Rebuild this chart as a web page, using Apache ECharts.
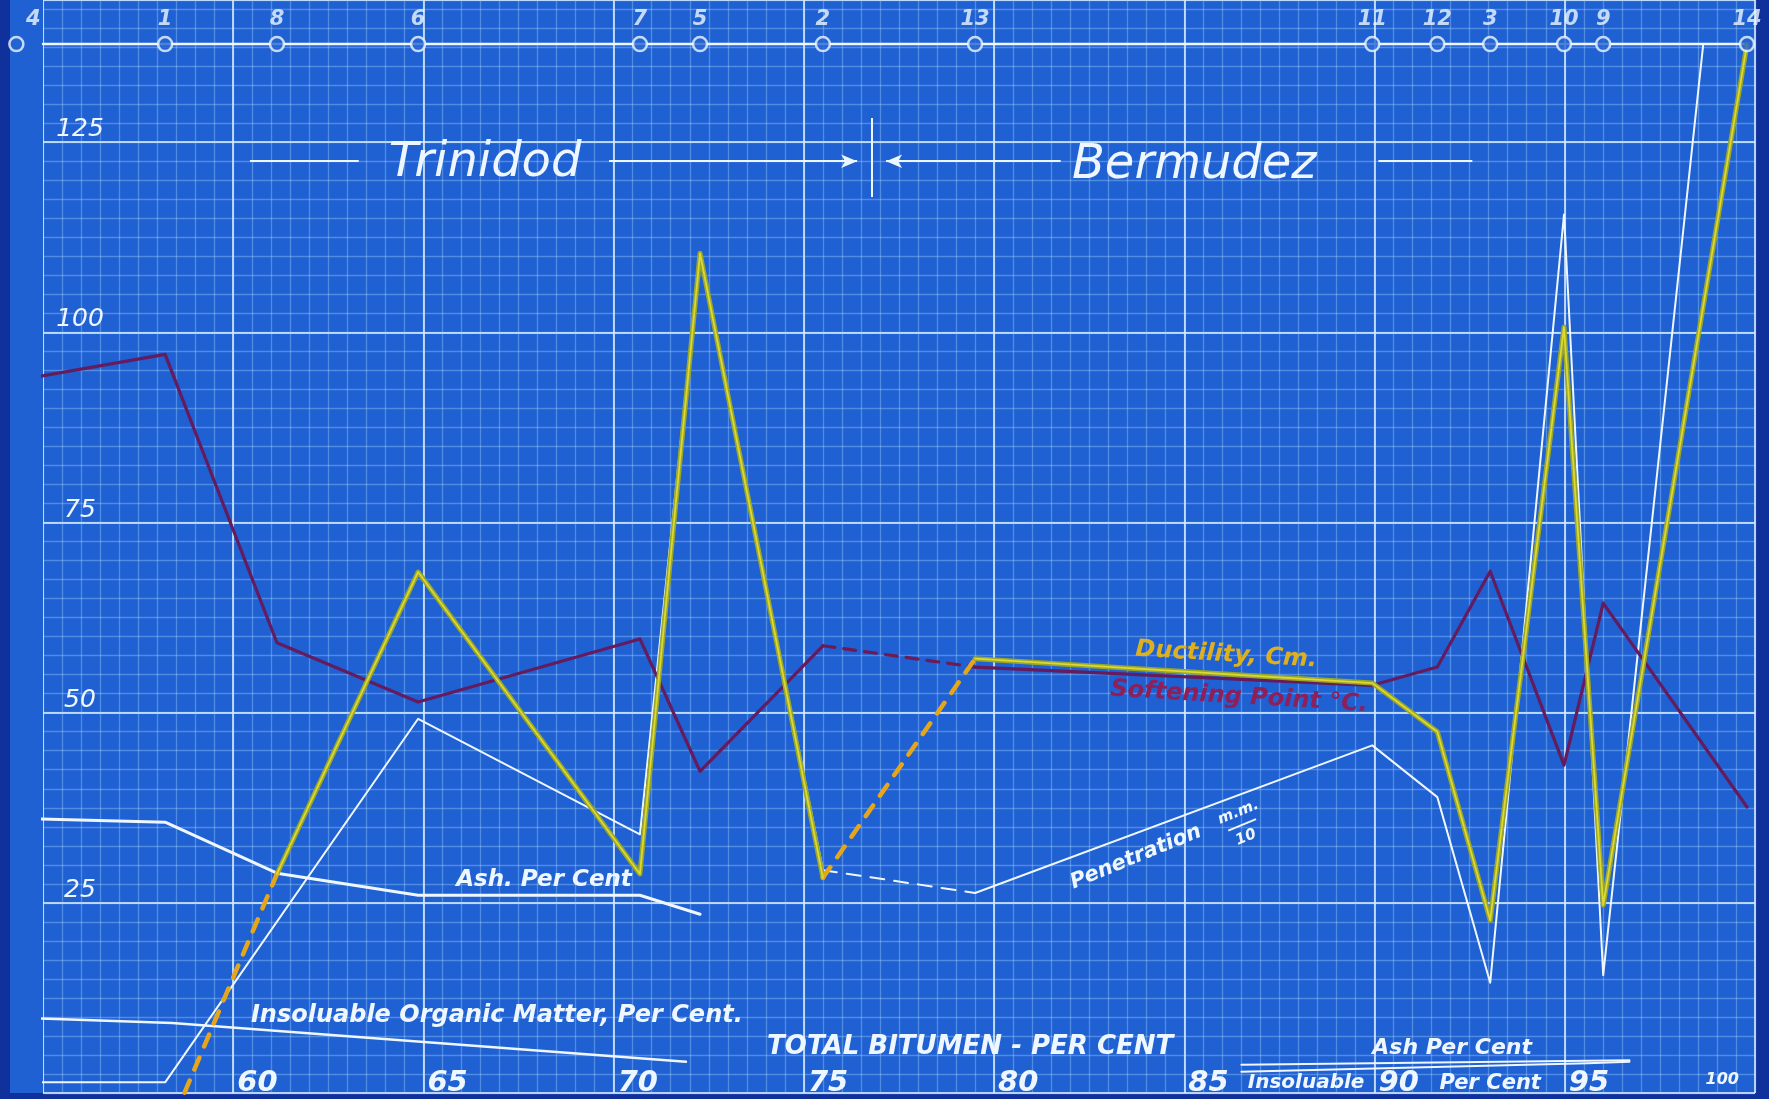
<!DOCTYPE html>
<html lang="en">
<head>
    <meta charset="UTF-8">
    <title>Trinidad / Bermudez asphalts</title>
    <script src="https://cdn.jsdelivr.net/npm/echarts@6/dist/echarts.min.js"></script>
    <style>
        body { margin: 0; }
        #root { width: 1769px; height: 1099px; }
    </style>
</head>
<body>
    <div id="root"></div>
    <script>
        // samples in order of total bitumen (per cent)
        var samples = ['4', '1', '8', '6', '7', '5', '2', '13', '11', '12', '3', '10', '9', '14'];
        var bitumen = [54.3, 58.21, 61.15, 64.86, 70.69, 72.27, 75.5, 79.5, 89.94, 91.65, 93.04, 94.98, 96.01, 99.79];

        var softening = [93.7, 97.1, 59.2, 51.4, 59.7, 42.3, 58.8, 56.0, 53.6, 56.0, 68.6, 43.1, 64.4, 37.6];
        var ductility = [null, -6, 28.8, 68.5, 28.8, 110.4, 28.3, 57.1, 53.9, 47.5, 22.7, 100.7, 24.7, 137.9];
        var penetration = [1.4, 1.4, null, 49.2, 34.0, 110.0, 29.3, 26.3, 45.7, 38.9, 14.5, 115.5, 15.5, null];
        var ashTrinidad = [36.1, 35.6, 28.9, 26.0, 26.0, 23.5];   // samples 4 .. 5
        var insolTrinidad = [[54.35, 9.9], [58.4, 9.2], [71.9, 4.1]];
        var ashBermudez = [[86.5, 3.7], [95.6, 4.25], [96.7, 4.3]];
        var insolBermudez = [[86.5, 2.8], [95.6, 3.9], [96.7, 4.1]];

        var rowLevel = 137.9;            // the sample row at the top
        var penOffScale = [54.3, 98.64]; // where the off-scale penetration runs up to the row

        var FONT = "'DejaVu Sans', sans-serif";
        var WHITE = '#eef7ff';

        // split a sample series into solid and dashed parts (dashed = segment that starts at a listed sample)
        function split(vals, dashedAfter) {
            var idx = [];
            vals.forEach(function (v, i) { if (v != null) idx.push(i); });
            var solid = [], dashed = [];
            for (var k = 0; k < idx.length - 1; k++) {
                var a = idx[k], b = idx[k + 1];
                var pa = [bitumen[a], vals[a]], pb = [bitumen[b], vals[b]];
                var t = dashedAfter.indexOf(samples[a]) >= 0 ? dashed : solid;
                var last = t[t.length - 1];
                if (last && last[0] === pa[0] && last[1] === pa[1]) {
                    t.push(pb);
                } else {
                    if (t.length) t.push(['-', '-']);
                    t.push(pa, pb);
                }
            }
            return { solid: solid, dashed: dashed };
        }

        var soft = split(softening, ['2']);
        var duct = split(ductility, ['1', '2']);
        var pen = split(penetration, ['2']);
        pen.solid.unshift([penOffScale[0], rowLevel]);
        pen.solid.push([penOffScale[1], rowLevel]);

        function line(name, data, color, width, dash, z) {
            return {
                name: name, type: 'line', data: data, symbol: 'none', clip: false,
                z: z || 3, silent: true,
                lineStyle: { color: color, width: width, type: dash || 'solid', cap: 'round', join: 'round' }
            };
        }

        var guides = [
            [[60.44, 122.5], [63.3, 122.5], 'none'],
            [[69.88, 122.5], [76.4, 122.5], 'arrow'],
            [[81.75, 122.5], [77.16, 122.5], 'arrow'],
            [[90.1, 122.5], [92.57, 122.5], 'none'],
            [[76.79, 128.2], [76.79, 117.8], 'none']
        ];

        var notes = [
            { text: 'Trinidod', at: [66.62, 122.2], size: 48 },
            { text: 'Bermudez', at: [85.26, 121.9], size: 48 },
            { text: 'Ductility, Cm.', at: [86.1, 57.6], size: 24, color: '#dcb01e', rot: -0.06, bold: true },
            { text: 'Softening Point °C.', at: [86.44, 52.05], size: 24, color: '#8e1f58', rot: -0.06, bold: true },
            { text: 'Penetration', at: [83.73, 31.0], size: 21, rot: 0.39, bold: true },
            { text: 'm.m.', at: [86.42, 36.9], size: 15, rot: 0.39, bold: true },
            { text: '10', at: [86.62, 33.6], size: 15, rot: 0.39, bold: true },
            { text: 'Ash. Per Cent', at: [68.17, 28.0], size: 23, bold: true },
            { text: 'Insoluable Organic Matter, Per Cent.', at: [66.93, 10.1], size: 24, bold: true },
            { text: 'TOTAL BITUMEN - PER CENT', at: [79.37, 6.0], size: 26, bold: true },
            { text: 'Ash Per Cent', at: [92.04, 5.9], size: 22, bold: true },
            { text: 'Insoluable', at: [88.2, 1.3], size: 20, bold: true },
            { text: 'Per Cent', at: [93.04, 1.3], size: 21, bold: true },
            { text: '100', at: [99.14, 1.7], size: 16, bold: true }
        ];
        var fractionBar = { at: [86.52, 35.25], length: 30, rot: 0.39 };

        var chart = echarts.init(document.getElementById('root'));

        var minorLine = { lineStyle: { color: 'rgba(170,215,255,0.36)', width: 1.4 } };
        var majorLine = { lineStyle: { color: 'rgba(215,238,255,0.8)', width: 2 } };
        var hidden = { axisLine: { show: false }, axisTick: { show: false } };

        chart.setOption({
            animation: false,
            backgroundColor: '#10309c',
            grid: { left: 43, right: 14, top: 0, bottom: 6, show: true, backgroundColor: '#1f60d2', borderWidth: 0 },
            xAxis: [
                Object.assign({ type: 'value', min: 55, max: 100, interval: 0.5, axisLabel: { show: false }, splitLine: minorLine }, hidden),
                Object.assign({
                    type: 'value', min: 55, max: 100, interval: 5, position: 'bottom', splitLine: majorLine,
                    axisLabel: {
                        inside: true, margin: 10, align: 'left', verticalAlign: 'middle', padding: [0, 0, 0, 4],
                        color: WHITE, fontSize: 29, fontStyle: 'italic', fontWeight: 'bold', fontFamily: FONT,
                        formatter: function (v) { return (v > 55 && v < 100) ? String(v) : ''; }
                    }
                }, hidden)
            ],
            yAxis: [
                Object.assign({ type: 'value', min: 0, max: 143.7, interval: 2.5, axisLabel: { show: false }, splitLine: minorLine }, hidden),
                Object.assign({
                    type: 'value', min: 0, max: 143.7, interval: 25, position: 'left', splitLine: majorLine,
                    axisLabel: {
                        inside: true, margin: 37, align: 'center', verticalAlign: 'bottom',
                        color: WHITE, fontSize: 25, fontStyle: 'italic', fontFamily: FONT,
                        formatter: function (v) { return (v > 0 && v <= 125 && v % 25 === 0) ? String(v) : ''; }
                    }
                }, hidden)
            ],
            series: [
                line('Ash Trinidad', ashTrinidad.map(function (v, i) { return [bitumen[i], v]; }), WHITE, 3),
                line('Insoluble Trinidad', insolTrinidad, WHITE, 2.5),
                line('Ash Bermudez', ashBermudez, WHITE, 2),
                line('Insoluble Bermudez', insolBermudez, WHITE, 2),
                line('Penetration', pen.solid, WHITE, 2, 'solid', 4),
                line('Penetration dashed', pen.dashed, WHITE, 2, [14, 10], 4),
                line('Softening', soft.solid, '#641c5e', 3.2, 'solid', 5),
                line('Softening dashed', soft.dashed, '#6e1a55', 3.2, [12, 9], 5),
                line('Ductility', duct.solid, '#98a62a', 5, 'solid', 6),
                line('Ductility hi', duct.solid, '#dcd834', 1.8, 'solid', 7),
                line('Ductility dashed', duct.dashed, '#e6a61c', 4.5, [13, 12], 6),
                Object.assign(line('Sample row', [[55, rowLevel], [bitumen[bitumen.length - 1], rowLevel]], WHITE, 2.5), {
                    markLine: {
                        silent: true, symbolSize: [10, 16], label: { show: false },
                        lineStyle: { color: WHITE, width: 2, type: 'solid' },
                        data: guides.map(function (g) {
                            return [{ coord: g[0], symbol: 'none' }, { coord: g[1], symbol: g[2] }];
                        })
                    }
                }),
                {
                    name: 'Samples', type: 'scatter', z: 9, silent: true, clip: false,
                    symbol: 'circle', symbolSize: 14,
                    itemStyle: { color: '#2464d2', borderColor: WHITE, borderWidth: 2.5 },
                    label: {
                        show: true, position: 'top', distance: 6, color: WHITE,
                        fontSize: 21, fontStyle: 'italic', fontWeight: 'bold', fontFamily: FONT,
                        formatter: function (p) { return samples[p.dataIndex]; }
                    },
                    data: bitumen.map(function (x, i) {
                        var d = { value: [x, rowLevel] };
                        if (samples[i] === '4') d.label = { offset: [17, 0] };
                        return d;
                    })
                }
            ]
        });

        function px(p) { return chart.convertToPixel({ xAxisIndex: 0, yAxisIndex: 0 }, p); }

        var o = px([55, 0]);
        var graphics = [
            { type: 'rect', z: 0, silent: true, shape: { x: 10, y: 0, width: o[0] - 10, height: o[1] }, style: { fill: '#1f60d2' } }
        ];
        notes.forEach(function (n) {
            var p = px(n.at);
            graphics.push({
                type: 'text', x: p[0], y: p[1], rotation: n.rot || 0, z: 100, silent: true,
                style: {
                    text: n.text, fill: n.color || WHITE, fontSize: n.size, fontStyle: 'italic',
                    fontWeight: n.bold ? 'bold' : 'normal',
                    fontFamily: FONT, align: 'center', verticalAlign: 'middle'
                }
            });
        });
        var fb = px(fractionBar.at);
        graphics.push({
            type: 'line', x: fb[0], y: fb[1], rotation: fractionBar.rot, z: 100, silent: true,
            shape: { x1: -fractionBar.length / 2, y1: 0, x2: fractionBar.length / 2, y2: 0 },
            style: { stroke: WHITE, lineWidth: 2 }
        });
        chart.setOption({ graphic: graphics });
    </script>
</body>
</html>
